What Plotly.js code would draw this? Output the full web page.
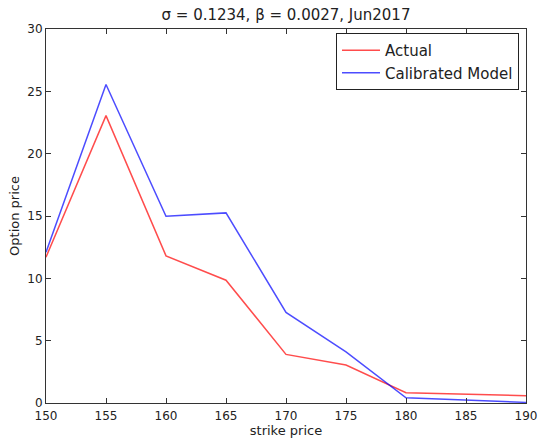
<!DOCTYPE html>
<html>
<head>
<meta charset="utf-8">
<script src="https://cdn.plot.ly/plotly-3.0.1.min.js"></script>
<style>html,body{margin:0;padding:0;background:#fff;}#chart{width:538px;height:440px;}</style>
</head>
<body>
<div id="chart"></div>
<script>
const strikes = [150, 155, 160, 165, 170, 175, 180, 185, 190];
const actual = [11.7, 23.05, 11.8, 9.85, 3.9, 3.05, 0.83, 0.7, 0.58];
const calibrated = [12.1, 25.55, 14.98, 15.25, 7.27, 4.1, 0.42, 0.24, 0.05];
const xTicks = [150, 155, 160, 165, 170, 175, 180, 185, 190];
const yTicks = [0, 5, 10, 15, 20, 25, 30];

const font = "DejaVu Sans, sans-serif";
const traces = [
  {x: strikes, y: actual, name: "Actual", mode: "lines", type: "scatter",
   line: {color: "rgba(255,0,0,0.7)", width: 1.5}},
  {x: strikes, y: calibrated, name: "Calibrated Model", mode: "lines", type: "scatter",
   line: {color: "rgba(0,0,255,0.7)", width: 1.5}}
];
const axisCommon = {
  showline: true, mirror: "ticks", linecolor: "#333", linewidth: 1,
  ticks: "inside", ticklen: 5, tickcolor: "#333", tickwidth: 1,
  showgrid: false, zeroline: false,
  tickfont: {family: font, size: 12, color: "#222"}
};
const layout = {
  width: 538, height: 440,
  margin: {l: 46, r: 12, t: 29, b: 37},
  paper_bgcolor: "#fff", plot_bgcolor: "#fff",
  title: {text: "σ = 0.1234, β = 0.0027, Jun2017", font: {family: font, size: 15, color: "#222"},
          x: 286/538, xanchor: "center", y: 1 - 15/440, yanchor: "middle", yref: "container"},
  xaxis: Object.assign({}, axisCommon, {
    range: [150, 190], tickvals: xTicks, ticktext: xTicks.map(String),
    ticklabelstandoff: 2,
    title: {text: "strike price", font: {family: font, size: 13, color: "#222"}, standoff: 2}
  }),
  yaxis: Object.assign({}, axisCommon, {
    range: [0, 30], tickvals: yTicks, ticktext: yTicks.map(String),
    title: {text: "Option price", font: {family: font, size: 13, color: "#222"}, standoff: 4}
  }),
  showlegend: true,
  legend: {x: (336-46)/480, xanchor: "left", y: (403-33)/374, yanchor: "top",
           itemwidth: 38,
           bgcolor: "#fff", bordercolor: "#222", borderwidth: 1,
           font: {family: font, size: 15, color: "#222"}}
};
Plotly.newPlot("chart", traces, layout, {displayModeBar: false, staticPlot: true});
</script>
</body>
</html>
